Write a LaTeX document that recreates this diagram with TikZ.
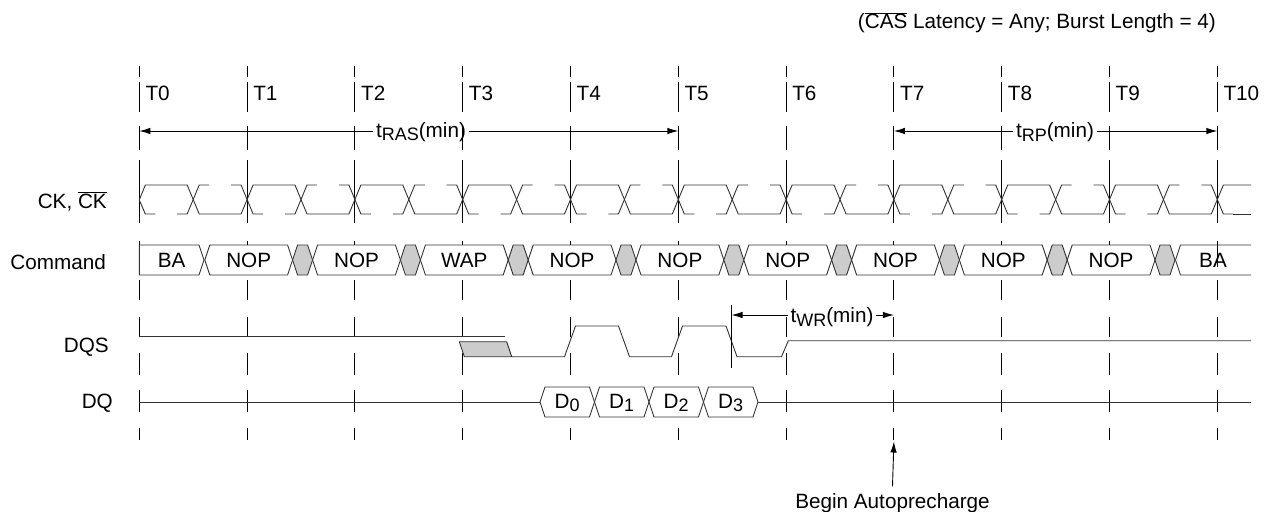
\documentclass[tikz,border=0pt]{standalone}
\usepackage{fontspec}
\setmainfont{Liberation Sans}
\usetikzlibrary{arrows.meta,positioning}
\definecolor{dcgray}{RGB}{204,204,204}
\newcommand{\tsub}[1]{\raisebox{-3.5pt}{\fontsize{18}{20}\selectfont #1}}

\begin{document}
\begin{tikzpicture}[
  x=1pt, y=-1pt,
  font=\fontsize{20.7}{24}\selectfont,
  wave/.style={line width=0.9pt, black!80},
  tick/.style={line width=0.9pt},
  bus/.style={wave, fill=white},
  dcbus/.style={wave, fill=dcgray},
  txt/.style={inner sep=0pt, anchor=base},
  dim/.style={-{Latex[length=11pt,width=6.5pt]}, line width=0.9pt}
]
\useasboundingbox (0,0) rectangle (1273,511);

\foreach \i in {0,...,10} {
  \pgfmathsetmacro{\tx}{139.3+107.8*\i}
  \foreach \a/\b in {66/77,82/112,126/150,160/223,241/267,280/300,317/337,353/375,390/412,428/440}
    \draw[tick] (\tx,\a) -- (\tx,\b);
  \node[txt, anchor=base west] (T\i) at (\tx+6,100) {T\i};
  \coordinate (arr\i) at (\tx,131);
  \coordinate (wr\i) at (\tx,315);
  \coordinate (low\i) at (\tx,441.5);
}

\node[txt, anchor=base east] (title) at (1216,29) {($\overline{\mbox{CAS}}$ Latency = Any; Burst Length = 4)};

\node[txt, anchor=base east] (ck) at (107,208) {CK, $\overline{\mbox{CK}}$};
\node[txt, anchor=base east] (cmd) at (106,269) {Command};
\node[txt, anchor=base east] (dqs) at (109,352) {DQS};
\node[txt, anchor=base east] (dq) at (113,408) {DQ};

\node[txt, inner xsep=2.5pt] (ras) at (421,137) {t\tsub{RAS}(min)};
\draw[dim] (ras.west |- arr0) -- (arr0);
\draw[dim] (ras.east |- arr5) -- (arr5);
\node[txt, inner xsep=2.5pt] (rp) at (1055,137.5) {t\tsub{RP}(min)};
\draw[dim] (rp.west |- arr7) -- (arr7);
\draw[dim] (rp.east |- arr10) -- (arr10);

\draw[wave] (139.3,200) -- (145.3,185)
  \foreach \k in {1,...,20} {
    -- ({139.3+53.9*\k-6},{199.5+14.5*cos(180*\k)})
    -- ({139.3+53.9*\k+6},{199.5-14.5*cos(180*\k)})
  } -- (1251,185);
\draw[wave] (139.3,200) -- (145.3,214) -- (155.3,214);
\foreach \k in {1,...,20}
  \draw[wave] ({139.3+53.9*\k-16},{199.5-14.5*cos(180*\k)}) -- ++(10,0)
    -- ++(12,{29*cos(180*\k)}) -- ++(10,0);
\draw[wave] (1233.3,214) -- (1251,214);

\draw[bus] (139.3,245) -- (199,245) -- (204,260) -- (199,275) -- (139.3,275) -- cycle;
\foreach \i/\c in {1/NOP,2/NOP,3/WAP,4/NOP,5/NOP,6/NOP,7/NOP,8/NOP,9/NOP} {
  \pgfmathsetmacro{\ta}{139.3+107.8*(\i-1)+65.5}
  \pgfmathsetmacro{\tb}{139.3+107.8*\i+45.5}
  \draw[bus] (\ta,260) -- ++(5,-15) -- (\tb-5,245) -- ++(5,15) -- ++(-5,15) -- (\ta+5,275) -- cycle;
  \draw[dcbus] (\tb,260) -- ++(5,-15) -- ++(10,0) -- ++(5,15) -- ++(-5,15) -- ++(-10,0) -- cycle;
  \node[txt] (cmd\i) at ({(\ta+\tb)/2},267) {\c};
}
\draw[wave] (1251,245) -- (1180.5,245) -- (1175.5,260) -- (1180.5,275) -- (1251,275);
\node[txt] (cmd0) at (171.7,267) {BA};
\node[txt] (cmd10) at (1213,267) {BA};

\draw[wave] (139.3,336) -- (505,336);
\draw[dcbus] (459.3,341.7) -- (506.7,341.7) -- (511.7,356.7) -- (464.3,356.7) -- cycle;
\draw[wave] (511.7,356.7) -- (564.5,356.7) -- (575.5,326) -- (618.5,326) -- (629.5,356.7)
  -- (671.5,356.7) -- (682.5,326) -- (726,326) -- (737,356.7) -- (781.5,356.7)
  -- (788.3,340.7) -- (1251,340.7);
\draw[tick] (731.5,305) -- (731.5,368);
\coordinate (wrl) at (731.5,315);
\node[txt, inner xsep=2.5pt] (wr) at (832,322.5) {t\tsub{WR}(min)};
\draw[dim] (wr.west |- wrl) -- (wrl);
\draw[dim] (wr.east |- wr7) -- (wr7);

\draw[wave] (139.3,402) -- (540,402);
\foreach \a/\n in {540/0,594.5/1,649/2,703.5/3} {
  \draw[bus] (\a,402) -- ++(5,-15) -- ++(44.5,0) -- ++(5,15) -- ++(-5,15) -- ++(-44.5,0) -- cycle;
  \node[txt] (d\n) at (\a+27.2,408) {D\tsub{\n}};
}
\draw[wave] (758,402) -- (1251,402);

\node[txt, inner ysep=6.5pt] (bap) at (892.5,508) {Begin Autoprecharge};
\draw[dim] (bap.north) -- (low7);
\end{tikzpicture}
\end{document}
